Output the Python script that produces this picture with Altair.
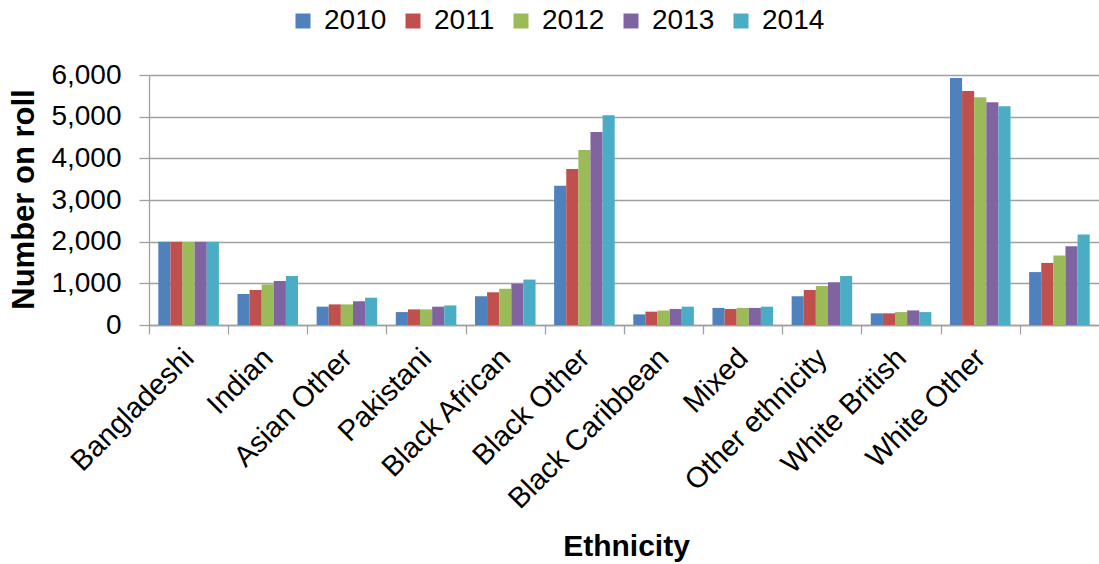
import altair as alt
import pandas as pd

categories = ["Bangladeshi", "Indian", "Asian Other", "Pakistani", "Black African",
              "Black Other", "Black Caribbean", "Mixed", "Other ethnicity",
              "White British", "White Other", " "]
years = ["2010", "2011", "2012", "2013", "2014"]
v2010 = [2000, 745, 440, 310, 690, 3340, 255, 410, 690, 280, 5930, 1270]
v2011 = [2000, 840, 495, 375, 785, 3745, 320, 385, 840, 280, 5615, 1490]
v2012 = [2000, 975, 495, 375, 870, 4200, 350, 410, 935, 310, 5465, 1670]
v2013 = [2000, 1055, 570, 440, 990, 4630, 385, 410, 1025, 350, 5345, 1890]
v2014 = [2000, 1175, 655, 470, 1090, 5035, 440, 440, 1175, 310, 5250, 2170]
colors = ["#4F81BD", "#C0504D", "#9BBB59", "#8064A2", "#4BACC6"]

rows = []
for yr, vals in zip(years, [v2010, v2011, v2012, v2013, v2014]):
    for c, v in zip(categories, vals):
        rows.append({"Ethnicity": c, "Year": yr, "Value": v})
df = pd.DataFrame(rows)

W, H = 950, 250
step = W / len(categories)
FONT = "Liberation Sans"
GRAY = "#a0a0a0"

chart = alt.Chart(df).mark_bar().encode(
    x=alt.X("Ethnicity:N", sort=categories,
            scale=alt.Scale(paddingInner=0.235, paddingOuter=0.1175),
            axis=alt.Axis(title="Ethnicity", labelAngle=-45, labelAlign="right",
                          labelBaseline="middle", labelFontSize=29, labelColor="black",
                          labelLimit=400, labelPadding=19,
                          tickOffset=-step / 2, labelOffset=step / 2,
                          tickSize=9, tickColor=GRAY, tickWidth=1.3,
                          domainColor=GRAY, domainWidth=1.3,
                          titleFontSize=30, titleFontWeight="bold", titleColor="black",
                          titleBaseline="alphabetic", titleAlign="center",
                          titleY=230, titleX=W / 2 + 2)),
    xOffset=alt.XOffset("Year:N", sort=years),
    y=alt.Y("Value:Q", scale=alt.Scale(domain=[0, 6000]),
            axis=alt.Axis(title="Number on roll", values=[0, 1000, 2000, 3000, 4000, 5000, 6000],
                          format=",.0f", labelFontSize=28, labelColor="black", labelPadding=18,
                          tickSize=10, tickColor=GRAY, tickWidth=1.3,
                          domainColor=GRAY, domainWidth=1.3,
                          grid=True, gridColor=GRAY, gridWidth=1.3,
                          titleFontSize=31, titleFontWeight="bold", titleColor="black",
                          titleAngle=270, titleBaseline="alphabetic", titleAlign="center",
                          titleX=-116, titleY=H / 2 - 1)),
    color=alt.Color("Year:N", scale=alt.Scale(domain=years, range=colors),
                    legend=alt.Legend(title=None, orient="none", direction="horizontal",
                                      legendX=140, legendY=-68, symbolType="square",
                                      symbolSize=225, symbolStrokeWidth=0,
                                      labelFontSize=28, labelColor="black",
                                      labelOffset=7, columnPadding=12, padding=0)),
).properties(
    width=W, height=H, autosize="none",
    padding={"left": 149, "top": 75, "right": 0, "bottom": 564 - 75 - H},
    background="white",
).configure(font=FONT).configure_view(stroke=None)

chart.save("out.html", embed_options={"renderer": "svg", "actions": False})
